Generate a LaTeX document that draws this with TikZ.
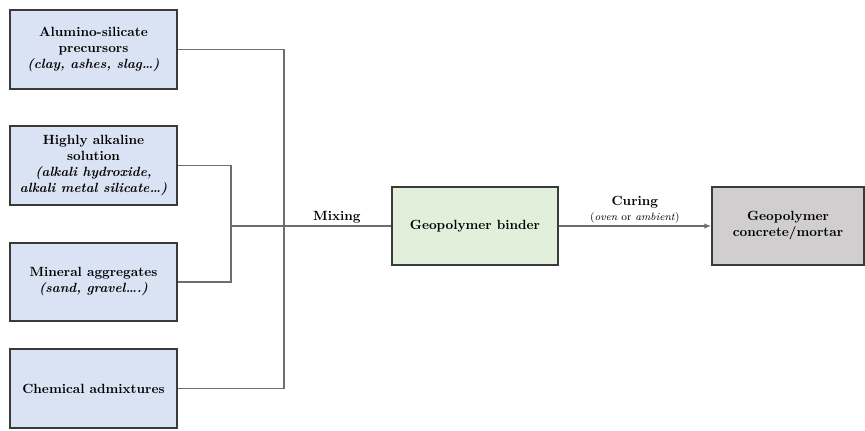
\documentclass[tikz,border=0pt]{standalone}
\usepackage{tikz}
\usetikzlibrary{positioning,arrows.meta,calc}
\definecolor{ink}{HTML}{3A3A3A}
\definecolor{wire}{HTML}{6E6E6E}
\definecolor{lightblue}{HTML}{DAE3F3}
\definecolor{lightgreen}{HTML}{E2EFDA}
\definecolor{lightgrey}{HTML}{D0CECE}
\tikzset{
  inbox/.style={draw=ink,fill=lightblue,line width=1.4pt,align=center,font=\bfseries,
    minimum width=125pt,minimum height=59pt,inner sep=3pt},
  binderbox/.style={inbox,fill=lightgreen,minimum width=124pt,minimum height=58pt},
  productbox/.style={inbox,fill=lightgrey,minimum width=114pt,minimum height=58pt},
  link/.style={draw=wire,line width=0.8pt},
  flow/.style={-{Latex[length=5pt,width=4pt]},draw=wire,line width=0.8pt},
  lbl/.style={align=center,font=\bfseries,inner sep=2pt}}

\begin{document}
\begin{tikzpicture}[x=0.75pt,y=-0.75pt]
\useasboundingbox (0,0) rectangle (865,430);

% inputs
\node[inbox] (precursor) at (93.5,49.5) {Alumino-silicate\\precursors\\\textit{(clay, ashes, slag\dots)}};
\node[inbox] (solution) at (93.5,165.5) {Highly alkaline\\solution\\\textit{(alkali hydroxide,}\\\textit{alkali metal silicate\dots)}};
\node[inbox] (aggregate) at (93.5,282) {Mineral aggregates\\\textit{(sand, gravel\dots.)}};
\node[inbox] (admix) at (93.5,388.5) {Chemical admixtures};

% products
\node[binderbox] (binder) at (475,226) {Geopolymer binder};
\node[productbox] (product) at (788,226) {Geopolymer\\concrete/mortar};

% collecting lines
\coordinate (outer) at (284,0);
\coordinate (inner) at (231,0);
\draw[link] (precursor.east) -| (outer |- admix.east) -- (admix.east);
\draw[link] (solution.east) -| (inner |- aggregate.east) -- (aggregate.east);
\draw[link] (inner |- binder.west) -- node[lbl,above,pos=0.66]{Mixing} (binder.west);
\draw[flow] (binder.east) -- node[lbl,above]{Curing\\[-1pt]{\mdseries\footnotesize(\textit{oven} or \textit{ambient})}} (product.west);
\end{tikzpicture}
\end{document}
